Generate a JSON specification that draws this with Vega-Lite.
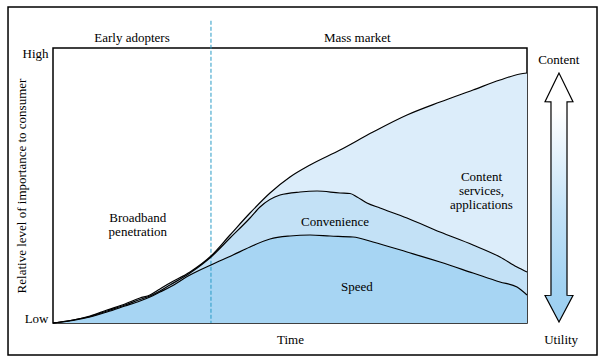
{
  "$schema": "https://vega.github.io/schema/vega-lite/v6.json",
  "width": 474,
  "height": 275,
  "autosize": {"type": "none"},
  "padding": {"left": 53, "top": 48, "right": 77, "bottom": 41},
  "background": "white",
  "config": {
    "font": "Liberation Serif, Times New Roman, DejaVu Serif, serif",
    "view": {"stroke": "black", "strokeWidth": 1.5},
    "axis": {"grid": false, "labelFont": "Liberation Serif, Times New Roman, serif", "titleFont": "Liberation Serif, Times New Roman, serif", "labelFontSize": 13, "titleFontSize": 13, "titleFontWeight": "normal", "labelColor": "black", "titleColor": "black"}
  },
  "datasets": {
    "curves": [
      {"series": "Content", "t": 0, "v": 0}, {"series": "Content", "t": 4.22, "v": 1.09}, {"series": "Content", "t": 7.81, "v": 2.55}, {"series": "Content", "t": 11.39, "v": 4.73}, {"series": "Content", "t": 15.19, "v": 6.91}, {"series": "Content", "t": 18.35, "v": 9.09}, {"series": "Content", "t": 20.46, "v": 10.18}, {"series": "Content", "t": 22.57, "v": 12.36}, {"series": "Content", "t": 24.68, "v": 14.55}, {"series": "Content", "t": 28.9, "v": 18.55}, {"series": "Content", "t": 33.33, "v": 24.36}, {"series": "Content", "t": 37.34, "v": 32.0}, {"series": "Content", "t": 41.56, "v": 40.0}, {"series": "Content", "t": 45.78, "v": 47.27}, {"series": "Content", "t": 50, "v": 53.09}, {"series": "Content", "t": 54.22, "v": 57.45}, {"series": "Content", "t": 60.55, "v": 62.91}, {"series": "Content", "t": 67.51, "v": 69.45}, {"series": "Content", "t": 74.68, "v": 75.64}, {"series": "Content", "t": 81.65, "v": 80.36}, {"series": "Content", "t": 88.61, "v": 84.73}, {"series": "Content", "t": 94.3, "v": 88.36}, {"series": "Content", "t": 98.52, "v": 90.55}, {"series": "Content", "t": 100, "v": 90.91},
      {"series": "Convenience", "t": 0, "v": 0}, {"series": "Convenience", "t": 4.22, "v": 1.09}, {"series": "Convenience", "t": 7.81, "v": 2.36}, {"series": "Convenience", "t": 11.39, "v": 4.36}, {"series": "Convenience", "t": 15.19, "v": 6.55}, {"series": "Convenience", "t": 18.35, "v": 8.55}, {"series": "Convenience", "t": 20.46, "v": 9.82}, {"series": "Convenience", "t": 22.57, "v": 11.64}, {"series": "Convenience", "t": 24.68, "v": 13.82}, {"series": "Convenience", "t": 28.9, "v": 18.18}, {"series": "Convenience", "t": 33.33, "v": 24.0}, {"series": "Convenience", "t": 37.34, "v": 30.91}, {"series": "Convenience", "t": 41.56, "v": 38.18}, {"series": "Convenience", "t": 43.67, "v": 42.18}, {"series": "Convenience", "t": 47.89, "v": 46.55}, {"series": "Convenience", "t": 52.11, "v": 47.64}, {"series": "Convenience", "t": 55.7, "v": 48.0}, {"series": "Convenience", "t": 60.55, "v": 47.27}, {"series": "Convenience", "t": 62.66, "v": 47.09}, {"series": "Convenience", "t": 64.14, "v": 45.82}, {"series": "Convenience", "t": 66.24, "v": 43.64}, {"series": "Convenience", "t": 68.99, "v": 41.82}, {"series": "Convenience", "t": 74.68, "v": 38.18}, {"series": "Convenience", "t": 81.65, "v": 33.09}, {"series": "Convenience", "t": 88.61, "v": 28.36}, {"series": "Convenience", "t": 94.3, "v": 24.0}, {"series": "Convenience", "t": 97.89, "v": 20.36}, {"series": "Convenience", "t": 100, "v": 18.55},
      {"series": "Speed", "t": 0, "v": 0}, {"series": "Speed", "t": 4.22, "v": 0.91}, {"series": "Speed", "t": 7.81, "v": 2.18}, {"series": "Speed", "t": 11.39, "v": 4.0}, {"series": "Speed", "t": 15.19, "v": 6.18}, {"series": "Speed", "t": 18.35, "v": 8.0}, {"series": "Speed", "t": 20.46, "v": 9.45}, {"series": "Speed", "t": 22.57, "v": 11.27}, {"series": "Speed", "t": 24.68, "v": 13.09}, {"series": "Speed", "t": 28.9, "v": 17.45}, {"series": "Speed", "t": 33.33, "v": 21.09}, {"series": "Speed", "t": 37.97, "v": 24.73}, {"series": "Speed", "t": 41.56, "v": 27.64}, {"series": "Speed", "t": 45.78, "v": 30.55}, {"series": "Speed", "t": 50, "v": 31.64}, {"series": "Speed", "t": 54.22, "v": 32.0}, {"series": "Speed", "t": 58.44, "v": 31.64}, {"series": "Speed", "t": 63.29, "v": 31.27}, {"series": "Speed", "t": 67.51, "v": 29.45}, {"series": "Speed", "t": 74.68, "v": 25.82}, {"series": "Speed", "t": 81.65, "v": 22.18}, {"series": "Speed", "t": 88.61, "v": 18.18}, {"series": "Speed", "t": 94.3, "v": 14.91}, {"series": "Speed", "t": 97.89, "v": 13.09}, {"series": "Speed", "t": 100, "v": 10.18}
    ],
    "labels": [
      {"text": "Early adopters", "t": 16.67, "v": 103.7},
      {"text": "Mass market", "t": 64.2, "v": 103.7},
      {"text": "Broadband\npenetration", "t": 17.9, "v": 38.2},
      {"text": "Content\nservices,\napplications", "t": 90.4, "v": 53.2},
      {"text": "Convenience", "t": 59.5, "v": 36.6},
      {"text": "Speed", "t": 64.1, "v": 13.0},
      {"text": "Content", "t": 106.7, "v": 95.6},
      {"text": "Utility", "t": 107.2, "v": -6.2}
    ],
    "arrow": [
      {"v": 90.9, "t": 106.75, "t2": 106.75},
      {"v": 80.5, "t": 103.8, "t2": 109.7},
      {"v": 80.4, "t": 105.06, "t2": 108.44},
      {"v": 10.1, "t": 105.06, "t2": 108.44},
      {"v": 10.0, "t": 103.8, "t2": 109.7},
      {"v": 0.36, "t": 106.75, "t2": 106.75}
    ],
    "frame": [{"t": -9.49, "t2": 114.77, "v": 114.9, "v2": -11.64}],
    "divider": [{"t": 33.33, "v": 109.9, "v2": 0}]
  },
  "encoding": {
    "x": {"field": "t", "type": "quantitative", "scale": {"domain": [0, 100], "nice": false, "zero": false},
          "axis": {"title": "Time", "labels": false, "ticks": false, "domain": false, "titlePadding": 10}},
    "y": {"field": "v", "type": "quantitative", "scale": {"domain": [0, 100], "nice": false, "zero": false},
          "axis": {"title": "Relative level of importance to consumer", "values": [1.6, 98.1], "labelExpr": "datum.value > 50 ? 'High' : 'Low'", "ticks": false, "tickSize": 0, "domain": false, "labelPadding": 5, "labelBaseline": "middle", "titlePadding": -6}}
  },
  "layer": [
    {
      "data": {"name": "frame"},
      "mark": {"type": "rect", "filled": false, "stroke": "black", "strokeWidth": 1.5},
      "encoding": {"x2": {"field": "t2"}, "y2": {"field": "v2"}}
    },
    {
      "data": {"name": "curves"},
      "mark": {"type": "area", "interpolate": "monotone"},
      "encoding": {
        "y": {"field": "v", "type": "quantitative", "stack": null},
        "color": {"field": "series", "type": "nominal", "scale": {"domain": ["Content", "Convenience", "Speed"], "range": ["#dcedfa", "#c3e1f6", "#a7d5f3"]}, "legend": null}
      }
    },
    {
      "data": {"name": "divider"},
      "mark": {"type": "rule", "color": "#2a9bc6", "strokeDash": [4, 2], "strokeWidth": 1},
      "encoding": {"y2": {"field": "v2"}}
    },
    {
      "data": {"name": "curves"},
      "mark": {"type": "line", "interpolate": "monotone", "color": "black", "strokeWidth": 1.2},
      "encoding": {"detail": {"field": "series", "type": "nominal"}}
    },
    {
      "data": {"name": "arrow"},
      "mark": {"type": "area", "orient": "horizontal", "stroke": "black", "strokeWidth": 1.2,
               "fill": {"gradient": "linear", "x1": 0, "y1": 0, "x2": 0, "y2": 1,
                        "stops": [{"offset": 0, "color": "#ffffff"}, {"offset": 0.15, "color": "#ffffff"}, {"offset": 0.55, "color": "#c4e2f7"}, {"offset": 0.85, "color": "#a3d3f2"}, {"offset": 1, "color": "#9ccff0"}]}},
      "encoding": {"x2": {"field": "t2"}}
    },
    {
      "data": {"name": "labels"},
      "mark": {"type": "text", "font": "Liberation Serif, Times New Roman, serif", "fontSize": 13, "color": "black", "align": "center", "baseline": "middle", "lineBreak": "\n", "lineHeight": 14},
      "encoding": {"text": {"field": "text"}}
    }
  ]
}
